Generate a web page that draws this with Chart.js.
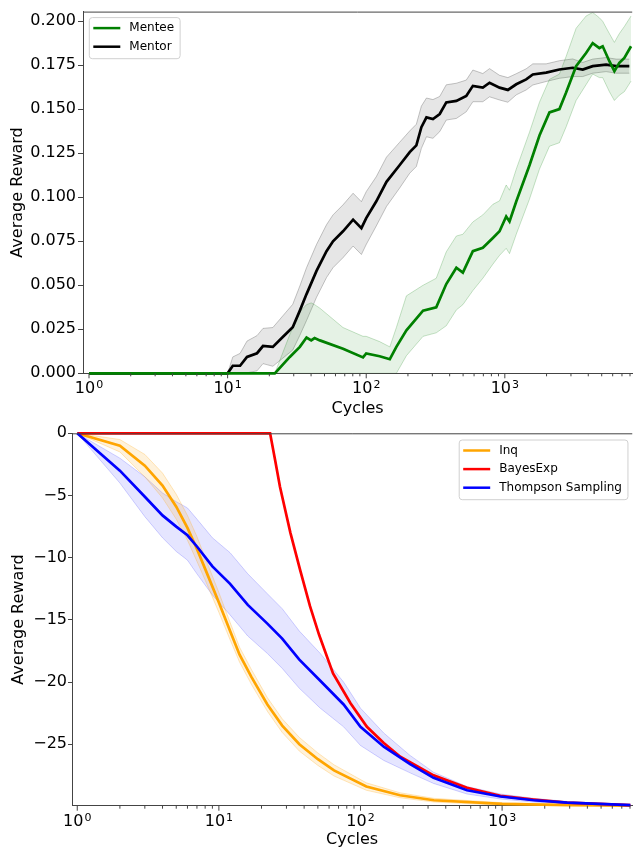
<!DOCTYPE html>
<html>
<head>
<meta charset="utf-8">
<script src="https://cdn.jsdelivr.net/npm/chart.js@4.4.1/dist/chart.umd.min.js"></script>
<style>
  html, body { margin: 0; padding: 0; background: #fff; overflow: hidden; }
  #top { position: absolute; left: 0; top: 0; }
  #bottom { position: absolute; left: 0; top: 420px; }
</style>
</head>
<body>
<div id="top"><canvas id="topChart" width="633" height="420"></canvas></div>
<div id="bottom"><canvas id="bottomChart" width="633" height="430"></canvas></div>
<script>
// ---- top panel: Mentee / Mentor ----
const mentorX = [1, 10, 10.9, 12.3, 13.8, 16.3, 18, 21.2, 25, 29.5, 33.2, 37.1, 43.8, 51.7, 57.6, 68, 80.4, 92.3, 100, 118, 140, 174, 206, 230, 250, 272, 303, 339, 378, 447, 527, 588, 694, 776, 916, 1052, 1209, 1426, 1592, 1988, 2477, 3091, 3648, 4305, 5379, 6350, 7910];
const mentorMean = [0, 0, 0.0043, 0.0043, 0.0093, 0.0114, 0.0155, 0.0150, 0.0206, 0.0262, 0.0356, 0.0450, 0.0582, 0.0694, 0.0750, 0.0807, 0.0873, 0.0825, 0.0882, 0.0976, 0.1088, 0.1182, 0.1257, 0.1295, 0.1398, 0.1454, 0.1445, 0.1473, 0.1539, 0.1548, 0.1576, 0.1633, 0.1623, 0.1651, 0.1623, 0.1610, 0.1642, 0.1670, 0.1698, 0.1708, 0.1726, 0.1736, 0.1726, 0.1745, 0.1754, 0.1745, 0.1745];
const mentorUpper = [0, 0, 0.0093, 0.0113, 0.0183, 0.0214, 0.0255, 0.0260, 0.0326, 0.0392, 0.0496, 0.0600, 0.0732, 0.0844, 0.0900, 0.0957, 0.1023, 0.0975, 0.1032, 0.1116, 0.1228, 0.1312, 0.1377, 0.1415, 0.1518, 0.1564, 0.1555, 0.1573, 0.1639, 0.1648, 0.1666, 0.1723, 0.1703, 0.1731, 0.1693, 0.1680, 0.1702, 0.1730, 0.1758, 0.1758, 0.1776, 0.1786, 0.1766, 0.1785, 0.1794, 0.1785, 0.1785];
const mentorLower = [0, 0, 0, 0, 0.0003, 0.0014, 0.0055, 0.0040, 0.0086, 0.0132, 0.0216, 0.0300, 0.0432, 0.0544, 0.0600, 0.0657, 0.0723, 0.0675, 0.0732, 0.0836, 0.0948, 0.1052, 0.1137, 0.1175, 0.1278, 0.1344, 0.1335, 0.1373, 0.1439, 0.1448, 0.1486, 0.1543, 0.1543, 0.1571, 0.1553, 0.1540, 0.1582, 0.1610, 0.1638, 0.1658, 0.1676, 0.1686, 0.1686, 0.1705, 0.1714, 0.1705, 0.1705];

const menteeX = [1, 21.9, 28.1, 33.2, 37.1, 40.1, 42.4, 46.3, 68, 94.8, 100, 125, 148, 165, 195, 257, 320, 378, 447, 498, 588, 694, 820, 916, 1023, 1081, 1209, 1507, 1778, 2099, 2477, 2768, 3268, 3857, 4305, 4810, 5082, 5680, 6171, 6702, 7282, 8140];
const menteeMean = [0, 0, 0.0093, 0.0150, 0.0203, 0.0187, 0.0200, 0.0187, 0.0139, 0.0090, 0.0113, 0.0097, 0.0080, 0.0150, 0.0244, 0.0356, 0.0375, 0.0507, 0.0600, 0.0572, 0.0694, 0.0713, 0.0769, 0.0807, 0.0891, 0.0863, 0.0976, 0.1182, 0.1351, 0.1482, 0.1501, 0.1595, 0.1745, 0.1820, 0.1876, 0.1848, 0.1858, 0.1773, 0.1717, 0.1764, 0.1792, 0.1858];
const menteeUpper = [0, 0, 0.022, 0.035, 0.039, 0.040, 0.039, 0.037, 0.026, 0.021, 0.021, 0.018, 0.015, 0.026, 0.044, 0.050, 0.054, 0.069, 0.078, 0.079, 0.086, 0.090, 0.096, 0.098, 0.107, 0.104, 0.116, 0.137, 0.154, 0.167, 0.170, 0.180, 0.196, 0.203, 0.205, 0.202, 0.200, 0.193, 0.188, 0.193, 0.197, 0.203];
const menteeLower = [0, 0, 0, 0, 0, 0, 0, 0, 0, 0, 0, 0, 0, 0, 0.010, 0.021, 0.023, 0.027, 0.036, 0.039, 0.047, 0.054, 0.062, 0.067, 0.071, 0.068, 0.079, 0.099, 0.116, 0.129, 0.131, 0.140, 0.155, 0.164, 0.170, 0.168, 0.168, 0.160, 0.155, 0.158, 0.160, 0.166];

const topYTicks = [0, 0.025, 0.05, 0.075, 0.1, 0.125, 0.15, 0.175, 0.2];

// ---- bottom panel: Inq / BayesExp / Thompson Sampling ----
const inqX = [1, 2, 3, 4, 5, 6, 7, 8, 10, 12, 14, 17, 22, 28, 37, 50, 65, 110, 190, 330, 1000, 3000, 8000];
const inqMean = [0, -1.0, -2.6, -4.2, -5.9, -7.6, -9.3, -10.9, -13.6, -15.9, -17.8, -19.6, -21.8, -23.5, -25.0, -26.2, -27.1, -28.4, -29.1, -29.5, -29.8, -29.9, -29.93];
const inqUpper = [0, -0.5, -1.7, -3.2, -4.9, -6.6, -8.3, -10.0, -12.8, -15.2, -17.2, -19.0, -21.25, -22.95, -24.45, -25.7, -26.65, -28.1, -28.9, -29.35, -29.7, -29.85, -29.88];
const inqLower = [0, -1.5, -3.5, -5.2, -6.9, -8.6, -10.3, -11.8, -14.4, -16.6, -18.4, -20.2, -22.35, -24.05, -25.55, -26.7, -27.55, -28.7, -29.3, -29.65, -29.9, -29.95, -29.98];

const bayesX = [1, 23, 25, 27, 32, 37.5, 44, 51, 64, 85, 111, 146, 191, 328, 565, 973, 1671, 2876, 8050];
const bayesMean = [0, 0, -2.2, -4.3, -8.0, -11.0, -13.9, -16.2, -19.3, -21.7, -23.6, -24.9, -26.0, -27.5, -28.5, -29.15, -29.45, -29.7, -29.9];

const tsX = [1, 2, 3, 4, 5, 6, 7, 9, 12, 16, 22, 28, 37, 52, 76, 100, 146, 224, 328, 565, 973, 1671, 2876, 8050];
const tsMean = [0, -3.0, -5.1, -6.6, -7.5, -8.2, -9.1, -10.7, -12.1, -13.8, -15.3, -16.5, -18.2, -19.9, -21.8, -23.6, -25.2, -26.6, -27.7, -28.7, -29.2, -29.5, -29.7, -29.9];
const tsUpper = [0, -2.0, -3.5, -4.8, -5.5, -6.0, -6.9, -8.4, -9.6, -11.3, -12.9, -14.1, -15.9, -17.7, -20.0, -22.1, -24.1, -25.9, -27.25, -28.4, -29.0, -29.35, -29.6, -29.85];
const tsLower = [0, -4.0, -6.7, -8.4, -9.5, -10.2, -11.3, -13.0, -14.6, -16.3, -17.7, -18.9, -20.5, -22.1, -23.6, -25.1, -26.3, -27.3, -28.15, -29.0, -29.4, -29.65, -29.8, -29.95];

const bottomYTicks = [0, -5, -10, -15, -20, -25];

// x axis: major ticks are written as base 10 with a raised exponent
const xMajorTicks = [1, 10, 100, 1000];
const xMajorExponents = ['0', '1', '2', '3'];

const FONT = 'DejaVu Sans';
const AXIS_COLOR = '#444444';

function pts(xs, ys) {
    return xs.map((x, i) => ({ x: x, y: ys[i] }));
}

function lineSet(label, xs, ys, color, order) {
    return {
        label: label, data: pts(xs, ys), borderColor: color, backgroundColor: color,
        borderWidth: 2.7, pointRadius: 0, tension: 0, fill: false, order: order, clip: 4
    };
}

function bandSets(xs, upper, lower, fillColor, edgeColor, order) {
    return [
        { data: pts(xs, upper), borderColor: edgeColor, backgroundColor: fillColor, borderWidth: 1,
          pointRadius: 0, tension: 0, fill: '+1', order: order },
        { data: pts(xs, lower), borderColor: edgeColor, backgroundColor: fillColor, borderWidth: 1,
          pointRadius: 0, tension: 0, fill: false, order: order }
    ];
}

function logTicks(min, max) {
    const out = [];
    for (let d = 0; d <= 3; d++) {
        for (let m = 1; m <= 9; m++) {
            const v = m * Math.pow(10, d);
            if (v >= min && v <= max) out.push(v);
        }
    }
    return out;
}

// top spine, major/minor ticks and 10^n labels on the log axis
const axisDecor = {
    id: 'axisDecor',
    afterDraw(chart) {
        const { ctx, chartArea: a } = chart;
        const x = chart.scales.x;
        ctx.save();
        ctx.strokeStyle = AXIS_COLOR;
        ctx.lineWidth = 1;
        ctx.beginPath();
        ctx.moveTo(a.left, a.top + 0.5);
        ctx.lineTo(a.right, a.top + 0.5);
        x.ticks.forEach(t => {
            const px = x.getPixelForValue(t.value);
            if (px < a.left || px > a.right) return;
            const len = xMajorTicks.includes(t.value) ? 5 : 3;
            ctx.moveTo(px, a.bottom);
            ctx.lineTo(px, a.bottom + len);
        });
        ctx.stroke();

        ctx.fillStyle = '#000';
        ctx.textBaseline = 'alphabetic';
        ctx.textAlign = 'left';
        xMajorTicks.forEach((v, i) => {
            const px = x.getPixelForValue(v);
            const baseFont = '16px "' + FONT + '"';
            const supFont = '11px "' + FONT + '"';
            ctx.font = baseFont;
            const wb = ctx.measureText('10').width;
            ctx.font = supFont;
            const ws = ctx.measureText(xMajorExponents[i]).width;
            const x0 = px - (wb + ws + 1) / 2;
            const base = a.bottom + 20;
            ctx.font = baseFont;
            ctx.fillText('10', x0, base);
            ctx.font = supFont;
            ctx.fillText(xMajorExponents[i], x0 + wb + 1, base - 5);
        });
        ctx.restore();
    }
};

// matplotlib-like legend box inside the plot
const boxLegend = {
    id: 'boxLegend',
    afterDraw(chart, args, opts) {
        const items = chart.data.datasets.filter(d => d.label);
        const ctx = chart.ctx, a = chart.chartArea;
        ctx.save();
        ctx.font = '12px "' + FONT + '"';
        const textW = Math.max(...items.map(d => ctx.measureText(d.label).width));
        const w = 40 + textW + 6;
        const h = 10.5 + (items.length - 1) * 18.6 + 12;
        const x0 = opts.align === 'right' ? a.right - opts.dx - w : a.left + opts.dx;
        const y0 = a.top + opts.dy;
        ctx.fillStyle = 'rgba(255,255,255,0.8)';
        ctx.strokeStyle = '#d0d0d0';
        ctx.lineWidth = 1;
        ctx.beginPath();
        ctx.roundRect(x0, y0, w, h, 3);
        ctx.fill();
        ctx.stroke();
        items.forEach((d, i) => {
            const cy = y0 + 10.5 + i * 18.6;
            ctx.strokeStyle = d.borderColor;
            ctx.lineWidth = 2.5;
            ctx.beginPath();
            ctx.moveTo(x0 + 4, cy);
            ctx.lineTo(x0 + 31, cy);
            ctx.stroke();
            ctx.fillStyle = '#000';
            ctx.textBaseline = 'middle';
            ctx.fillText(d.label, x0 + 40, cy);
        });
        ctx.restore();
    }
};

function makeOptions(cfg) {
    return {
        responsive: false,
        animation: false,
        layout: { padding: { top: cfg.padTop, left: 0, right: 0, bottom: 0 } },
        plugins: {
            legend: { display: false },
            tooltip: { enabled: false },
            boxLegend: cfg.legend
        },
        scales: {
            x: {
                type: 'logarithmic',
                min: cfg.xMin, max: cfg.xMax,
                afterBuildTicks: s => { s.ticks = logTicks(cfg.xMin, cfg.xMax).map(v => ({ value: v })); },
                afterFit: s => { s.height = cfg.xHeight; },
                grid: { display: false },
                border: { display: true, color: AXIS_COLOR, width: 1 },
                ticks: { autoSkip: false, maxRotation: 0, callback: () => '' },
                title: { display: true, text: 'Cycles', color: '#000', font: { family: FONT, size: 16 },
                         padding: { top: 0, bottom: cfg.xTitlePad } }
            },
            y: {
                type: 'linear',
                min: cfg.yMin, max: cfg.yMax,
                afterBuildTicks: s => { s.ticks = cfg.yTicks.map(v => ({ value: v })); },
                afterFit: s => { s.width = cfg.yWidth; },
                grid: { drawOnChartArea: false, drawTicks: true, tickLength: cfg.yTickLen, tickColor: AXIS_COLOR },
                border: { display: true, color: AXIS_COLOR, width: 1 },
                ticks: { padding: cfg.yTickPad, color: '#000', font: { family: FONT, size: 16 }, callback: cfg.yFormat },
                title: { display: true, text: 'Average Reward', color: '#000', font: { family: FONT, size: 16 },
                         padding: { top: cfg.yTitlePad, bottom: 0 } }
            }
        }
    };
}

new Chart(document.getElementById('topChart'), {
    type: 'line',
    data: {
        datasets: [
            lineSet('Mentee', menteeX, menteeMean, '#008000', 0),
            lineSet('Mentor', mentorX, mentorMean, '#000000', 1),
            ...bandSets(menteeX, menteeUpper, menteeLower, 'rgba(0,128,0,0.10)', 'rgba(0,128,0,0.22)', 3),
            ...bandSets(mentorX, mentorUpper, mentorLower, 'rgba(128,128,128,0.20)', 'rgba(110,110,110,0.40)', 4)
        ]
    },
    options: makeOptions({
        padTop: 9, xMin: 0.905, xMax: 8300, xHeight: 46.7, xTitlePad: 2,
        yMin: 0, yMax: 0.2055, yTicks: topYTicks, yWidth: 83, yTickLen: 5, yTickPad: 2, yTitlePad: 8,
        yFormat: v => v.toFixed(3),
        legend: { align: 'left', dx: 6.3, dy: 6 }
    }),
    plugins: [axisDecor, boxLegend]
});

new Chart(document.getElementById('bottomChart'), {
    type: 'line',
    data: {
        datasets: [
            lineSet('Inq', inqX, inqMean, '#FFA500', 2),
            lineSet('BayesExp', bayesX, bayesMean, '#FF0000', 1),
            lineSet('Thompson Sampling', tsX, tsMean, '#0000FF', 0),
            ...bandSets(inqX, inqUpper, inqLower, 'rgba(255,165,0,0.14)', 'rgba(255,165,0,0.25)', 4),
            ...bandSets(tsX, tsUpper, tsLower, 'rgba(0,0,255,0.10)', 'rgba(0,0,255,0.18)', 5)
        ]
    },
    options: makeOptions({
        padTop: 13.3, xMin: 0.918, xMax: 8300, xHeight: 44.3, xTitlePad: 0.4,
        yMin: -29.94, yMax: 0, yTicks: bottomYTicks, yWidth: 72, yTickLen: 4, yTickPad: 1, yTitlePad: 9,
        yFormat: v => v === 0 ? '0' : '\u2212' + Math.abs(v),
        legend: { align: 'right', dx: 4.3, dy: 6.7 }
    }),
    plugins: [axisDecor, boxLegend]
});
</script>
</body>
</html>
